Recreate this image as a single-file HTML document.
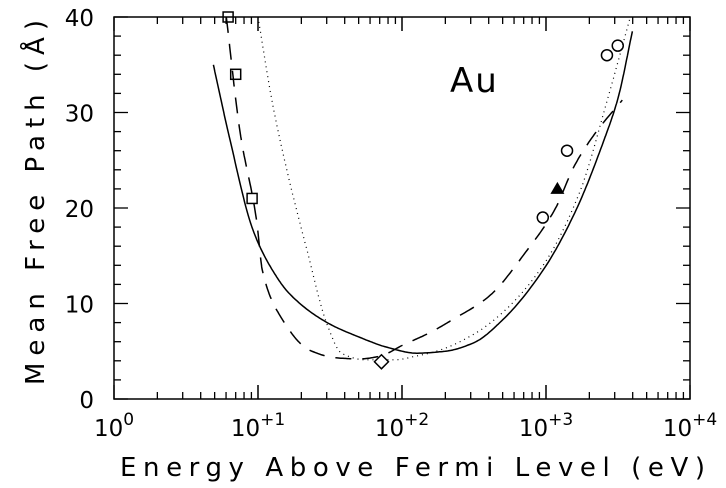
<!DOCTYPE html>
<html><head><meta charset="utf-8"><style>
html,body{margin:0;padding:0;background:#fff;}
svg{display:block;font-family:"DejaVu Sans","Liberation Sans",sans-serif;}
</style></head><body>
<svg id="chart" width="726" height="488">
<g id="g" fill="none" stroke="#000"></g>
</svg>
<script>
const xTickExps=[0,1,2,3,4];
const yTicks=[0,10,20,30,40];
const solidLogE=[0.69,0.8,0.965,1.1,1.22,1.48,1.7,1.9,2.1,2.3,2.5,2.7,2.98,3.2,3.4,3.5,3.6];
const solidVal=[35,27.5,17.7,13.5,11,8,6.5,5.4,4.8,5.0,5.9,8.3,13.5,19.5,27,31.5,38.5];
const dashLogE=[0.78,0.875,0.99,1.03,1.15,1.36,1.55,1.71,1.85,2.0,2.2,2.35,2.6,2.87,3.06,3.2,3.35,3.53];
const dashVal=[40,28,18.7,13.5,8.8,5.1,4.3,4.2,4.5,5.6,7.0,8.3,10.7,15.6,19.8,24.5,28,31.3];
const dotLogE=[1.0,1.1,1.2,1.34,1.48,1.58,1.75,1.95,2.1,2.26,2.5,2.68,2.98,3.24,3.42,3.58];
const dotVal=[40,31,24,15.6,7.8,4.8,4.1,4.1,4.5,5.1,6.8,8.8,14,21.9,31,39.7];
const squareE=[6.2,7.0,9.1];
const squareVal=[40,34,21];
const diamondE=[72];
const diamondVal=[3.9];
const circleE=[950,1400,2650,3150];
const circleVal=[19,26,36,37];
const triE=[1200];
const triVal=[22];

const X0=114,X1=690,Y0=399,Y1=17;
const sx=l=>X0+(X1-X0)*l/4;
const sxE=e=>sx(Math.log10(e));
const sy=v=>Y0-(Y0-Y1)*v/40;
const NS="http://www.w3.org/2000/svg";
const g=document.getElementById('g');
function mk(t,a,p){const e=document.createElementNS(NS,t);for(const k in a)e.setAttribute(k,a[k]);(p||g).appendChild(e);return e;}

const frame=mk('rect',{x:X0,y:Y1,width:X1-X0,height:Y0-Y1,'stroke-width':1.5});



for(let d=0;d<4;d++){for(let m=1;m<=10;m++){
 const x=sx(d+Math.log10(m));const L=(m===1||m===10)?14:7;
 mk('line',{x1:x,x2:x,y1:Y0,y2:Y0-L,'stroke-width':1.3});
 mk('line',{x1:x,x2:x,y1:Y1,y2:Y1+L,'stroke-width':1.3});
}}
for(let v=0;v<=40;v+=2){const y=sy(v);const L=v%10===0?14:7;
 mk('line',{x1:X0,x2:X0+L,y1:y,y2:y,'stroke-width':1.3});
 mk('line',{x1:X1,x2:X1-L,y1:y,y2:y,'stroke-width':1.3});}

const tg=mk('g',{fill:'#000',stroke:'none'});
xTickExps.forEach(e=>{const t=mk('text',{x:sx(e),y:436,'text-anchor':'middle','font-size':23},tg);
 
 
 t.innerHTML='10<tspan dy="-11" font-size="17">'+(e===0?'0':'+'+e)+'</tspan>';});
yTicks.forEach(v=>{const t=mk('text',{x:94,y:sy(v)+9,'text-anchor':'end','font-size':23},tg);
 
 
 t.textContent=v;});
const xt=mk('text',{x:120,y:476,'font-size':26,textLength:585,lengthAdjust:'spacing'},tg);


xt.textContent='Energy Above Fermi Level (eV)';
const yt=mk('text',{x:0,y:0,'font-size':26,textLength:365,lengthAdjust:'spacing',transform:'translate(44,385) rotate(-90)'},tg);


yt.textContent='Mean Free Path (Å)';
const au=mk('text',{x:450,y:92,'font-size':34,'letter-spacing':2},tg);


au.textContent='Au';

function mono(X,Y){
 const n=X.length,dx=[],s=[];
 for(let i=0;i<n-1;i++){dx.push(X[i+1]-X[i]);s.push((Y[i+1]-Y[i])/dx[i]);}
 const m=[s[0]];
 for(let i=1;i<n-1;i++){m.push(s[i-1]*s[i]<=0?0:(dx[i-1]+dx[i])*3/((2*dx[i]+dx[i-1])/s[i-1]+(dx[i]+2*dx[i-1])/s[i]));}
 m.push(s[n-2]);
 const pts=[];
 for(let i=0;i<n-1;i++){for(let k=0;k<20;k++){const t=k/20,h=dx[i];
  const h00=2*t*t*t-3*t*t+1,h10=t*t*t-2*t*t+t,h01=-2*t*t*t+3*t*t,h11=t*t*t-t*t;
  pts.push([X[i]+t*h,h00*Y[i]+h10*h*m[i]+h01*Y[i+1]+h11*h*m[i+1]]);}}
 pts.push([X[n-1],Y[n-1]]);
 return pts;
}
function line(L,V,dash,name,w){
 const P=mono(L,V);
 const d=P.map((p,i)=>(i?'L':'M')+sx(p[0]).toFixed(1)+','+sy(p[1]).toFixed(1)).join('');
 const p=mk('path',{d:d,'stroke-width':w,'stroke-dasharray':dash,'stroke-linejoin':'round'});
 
 
}
line(solidLogE,solidVal,'none','solid-curve',1.5);
line(dashLogE,dashVal,'16,11','dashed-curve',1.5);
line(dotLogE,dotVal,'1,4','dotted-curve',1.2);

squareE.forEach((e,i)=>{const x=sxE(e),y=sy(squareVal[i]);
 const r=mk('rect',{x:x-5,y:y-5,width:10,height:10,'stroke-width':1.5});
 
 });
diamondE.forEach((e,i)=>{const x=sxE(e),y=sy(diamondVal[i]);
 const p=mk('polygon',{points:`${x},${y-7} ${x+7},${y} ${x},${y+7} ${x-7},${y}`,'stroke-width':1.5,fill:'#fff'});
 
 });
circleE.forEach((e,i)=>{
 const c=mk('circle',{cx:sxE(e),cy:sy(circleVal[i]),r:5.5,'stroke-width':1.5});
 
 });
triE.forEach((e,i)=>{const x=sxE(e),y=sy(triVal[i]);
 const p=mk('polygon',{points:`${x},${y-7} ${x+7},${y+5} ${x-7},${y+5}`,fill:'#000',stroke:'none'});
 
 });
</script>
</body></html>
